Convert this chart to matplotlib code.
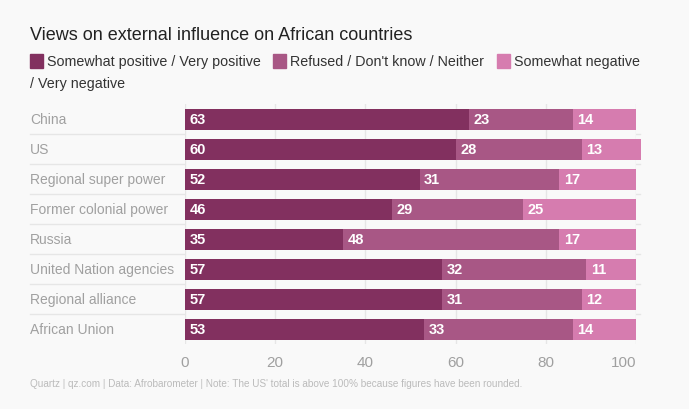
import numpy as np
import matplotlib.pyplot as plt
from matplotlib.patches import Rectangle

plt.rcParams['font.family'] = ['Liberation Sans', 'DejaVu Sans']

categories = ["China", "US", "Regional super power", "Former colonial power",
              "Russia", "United Nation agencies", "Regional alliance", "African Union"]
positive = [63, 60, 52, 46, 35, 57, 57, 53]
neither = [23, 28, 31, 29, 48, 32, 31, 33]
negative = [14, 13, 17, 25, 17, 11, 12, 14]
series_names = ["Somewhat positive / Very positive", "Refused / Don't know / Neither",
                "Somewhat negative"]
colors = ["#82305f", "#a85785", "#d67caf"]
xticks = [0, 20, 40, 60, 80, 100]

bg = "#f9f9f9"
W, H = 689, 410
fig = plt.figure(figsize=(W / 100, H / 100), dpi=100, facecolor=bg)

# axes placed in pixel coords
left, right, top, bottom = 185, 636, 105, 345
ax = fig.add_axes([left / W, 1 - bottom / H, (right - left) / W, (bottom - top) / H])
ax.set_facecolor(bg)

y = np.arange(len(categories))
lefts = np.zeros(len(categories))
for vals, c in zip([positive, neither, negative], colors):
    vals = np.array(vals)
    bars = ax.barh(y, vals, left=lefts, height=0.7, color=c, zorder=3)
    for b in bars:
        b.set_clip_on(False)  # US total is 101
    for yi, l, v in zip(y, lefts, vals):
        ax.text(l + 1.0, yi, str(v), color="white", fontsize=10.5, fontweight="bold",
                va="center", ha="left", zorder=4)
    lefts = lefts + vals

ax.set_xlim(0, 100)
ax.set_ylim(len(categories) - 0.5, -0.5)
ax.set_xticks(xticks)
ax.set_xticklabels([str(t) for t in xticks])
ax.tick_params(axis="x", length=0, pad=8, labelsize=11, labelcolor="#a0a0a0")
ax.get_xticklabels()[-1].set_ha("right")
ax.set_yticks([])
for s in ax.spines.values():
    s.set_visible(False)
for t in xticks:
    ax.axvline(t, color="#e6e6e6", lw=1, zorder=1)

# category labels and separators
for yi, cat in zip(y, categories):
    fig.text(30 / W, 1 - (120 + 30 * yi) / H, cat, fontsize=10, color="#a0a0a0",
             va="center", ha="left")
for k in range(len(categories) - 1):
    yy = 1 - (135 + 30 * k) / H
    fig.add_artist(plt.Line2D([30 / W, 640 / W], [yy, yy], color="#e6e6e6", lw=1,
                              transform=fig.transFigure, zorder=0))

# title
fig.text(30 / W, 1 - 35 / H, "Views on external influence on African countries",
         fontsize=13, color="#222222", va="center", ha="left")

# legend
leg_y = 62
items = [(30, 47), (273, 290), (497, 514)]
for (sx, tx), c, name in zip(items, colors, series_names):
    fig.add_artist(Rectangle((sx / W, 1 - (leg_y + 7) / H), 13 / W, 14 / H,
                             color=c, transform=fig.transFigure))
    fig.text(tx / W, 1 - leg_y / H, name, fontsize=10.3, color="#333333",
             va="center", ha="left")
fig.text(30 / W, 1 - 84 / H, "/ Very negative", fontsize=10.3, color="#333333",
         va="center", ha="left")

# footer
fig.text(30 / W, 1 - 384 / H,
         "Quartz | qz.com | Data: Afrobarometer | Note: The US' total is above 100% because figures have been rounded.",
         fontsize=7.2, color="#bbbbbb", va="center", ha="left")

fig.savefig("out.png", dpi=100, facecolor=bg)
